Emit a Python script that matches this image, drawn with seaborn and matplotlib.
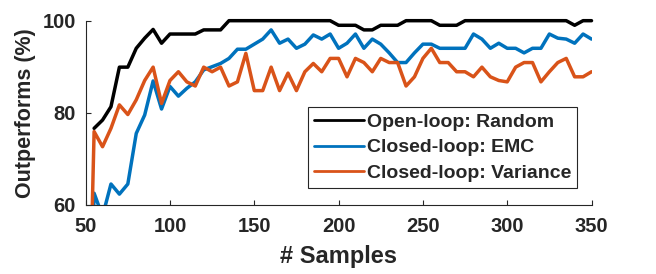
import matplotlib
matplotlib.use("Agg")
import matplotlib.pyplot as plt
import numpy as np
import pandas as pd
import seaborn as sns

samples = list(range(50, 355, 5))

open_loop_random = [
    np.nan, 76.6, 78.4, 81.3, 89.9, 89.9, 94.0, 96.2, 98.1, 95.1,
    97.1, 97.1, 97.1, 97.1, 98.0, 98.0, 98.0, 100, 100, 100,
    100, 100, 100, 100, 100, 100, 100, 100, 100, 100,
    99, 99, 99, 98, 98, 99, 99, 99, 100, 100,
    100, 100, 99, 99, 99, 100, 100, 100, 100, 100,
    100, 100, 100, 100, 100, 100, 100, 100, 99, 100,
    100,
]
closed_loop_emc = [
    0, 62.5, 57.5, 64.5, 62.3, 64.5, 75.5, 79.5, 86.9, 80.8,
    85.7, 83.6, 85.3, 86.7, 89.3, 90.0, 90.7, 91.8, 93.8, 93.8,
    94.9, 96.0, 98.0, 95.1, 96.0, 94.0, 94.9, 96.9, 96.0, 97.1,
    94.0, 95.1, 97.1, 94.0, 96.0, 94.9, 93.0, 90.9, 90.9, 93.0,
    94.9, 94.9, 94.0, 94.0, 94.0, 94.0, 97.1, 96.0, 94.0, 95.1,
    94.0, 94.0, 93.0, 94.0, 94.0, 97.1, 96.2, 96.0, 95.1, 97.1,
    96.0,
]
closed_loop_variance = [
    0, 75.9, 72.6, 76.6, 81.7, 79.6, 82.8, 87.0, 89.9, 82.0,
    87.0, 88.9, 86.7, 85.8, 89.9, 88.9, 89.9, 85.8, 86.7, 92.9,
    84.8, 84.8, 89.9, 84.8, 88.6, 84.8, 88.9, 90.7, 88.9, 91.8,
    91.8, 87.8, 91.8, 90.9, 88.9, 91.8, 90.9, 90.9, 85.8, 87.8,
    91.8, 94.0, 90.9, 90.9, 88.9, 88.9, 87.8, 89.9, 87.8, 87.0,
    86.7, 89.9, 90.9, 90.9, 86.7, 88.9, 90.9, 91.8, 87.8, 87.8,
    88.9,
]

labels = ["Open-loop: Random", "Closed-loop: EMC", "Closed-loop: Variance"]
colors = ["#000000", "#0072BD", "#D95319"]

df = pd.concat(
    [
        pd.DataFrame({"samples": samples, "value": vals, "method": name})
        for name, vals in zip(labels, [open_loop_random, closed_loop_emc, closed_loop_variance])
    ],
    ignore_index=True,
)

sns.set_style("ticks")
plt.rcParams["font.family"] = ["Liberation Sans", "DejaVu Sans"]
plt.rcParams["font.weight"] = "bold"

fig = plt.figure(figsize=(6.56, 2.74), dpi=100)
ax = fig.add_axes([0.1306, 0.2529, 0.7711, 0.6716])

for name, color in zip(labels, colors):
    sub = df[df["method"] == name].dropna()
    sns.lineplot(data=sub, x="samples", y="value", color=color, linewidth=2.5,
                 sort=False, ax=ax, label=name)

# the random line sits on the upper limit, keep it unclipped like the original
ax.lines[0].set_clip_on(False)

ax.set_xlim(50, 350)
ax.set_ylim(60, 100)
ax.set_xticks(range(50, 351, 50))
ax.set_yticks([60, 80, 100])
ax.tick_params(direction="in", length=3.5, width=0.8, colors="#262626", labelsize=14.5)
ax.tick_params(axis="x", pad=9)
ax.tick_params(axis="y", pad=7)
for lab in ax.get_xticklabels() + ax.get_yticklabels():
    lab.set_fontweight("bold")
sns.despine(ax=ax)
for side in ["left", "bottom"]:
    ax.spines[side].set_color("#262626")
    ax.spines[side].set_linewidth(0.8)

ax.set_xlabel("# Samples", fontsize=17, fontweight="bold", color="#262626")
ax.set_ylabel("Outperforms (%)", fontsize=15.5, fontweight="bold", color="#262626")
ax.xaxis.set_label_coords(0.5, -0.219)
ax.yaxis.set_label_coords(-0.098, 0.5)

leg = ax.legend(loc="lower right", bbox_to_anchor=(0.971, 0.091), fontsize=14,
                frameon=True, fancybox=False, framealpha=1, edgecolor="#262626",
                handlelength=2.6, handletextpad=0.12, borderpad=0.3, labelspacing=0.42,
                borderaxespad=0)
leg.get_frame().set_linewidth(0.8)
for t in leg.get_texts():
    t.set_fontweight("bold")
for h in leg.get_lines():
    h.set_linewidth(2.0)

fig.savefig("out.png", dpi=100)
